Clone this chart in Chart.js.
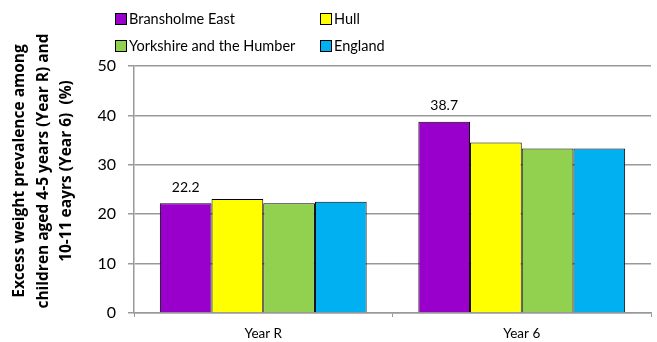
<!DOCTYPE html>
<html>
<head>
<meta charset="utf-8">
<script src="https://cdn.jsdelivr.net/npm/chart.js@4"></script>
<style>
  html, body { margin: 0; padding: 0; background: #fff; }
  #wrap { position: relative; width: 657px; height: 342px; }
  #legend { position: absolute; left: 115px; top: 8px; width: 540px; font-family: Lato, sans-serif; font-size: 14.5px; color: #000; }
  #legend .item { position: absolute; white-space: nowrap; line-height: 22px; }
  #legend .box { display: inline-block; width: 10px; height: 10px; border: 1px solid #000; margin-right: 2px; vertical-align: -1px; }
</style>
</head>
<body>
<div id="wrap">
  <canvas id="weightChart" width="657" height="342"></canvas>
  <div id="legend"></div>
</div>
<script>
// categories and series
var categories = ['Year R', 'Year 6'];
var seriesNames = ['Bransholme East', 'Hull', 'Yorkshire and the Humber', 'England'];
var bransholme = [22.2, 38.7];
var hull = [23.1, 34.5];
var yorkshire = [22.2, 33.3];
var england = [22.5, 33.3];
var seriesColors = ['#9900CC', '#FFFF00', '#92D050', '#00B0F0'];
var yTicks = [0, 10, 20, 30, 40, 50];
var yTitle = ['Excess weight prevalence among', 'children aged 4-5 years (Year R) and', '10-11 eayrs (Year 6)  (%)'];

var seriesValues = [bransholme, hull, yorkshire, england];

// legend in two columns
var legendPos = [[0, 0], [205, 0], [0, 27], [205, 27]];
$legend = document.getElementById('legend');
seriesNames.forEach(function(name, i) {
  var el = document.createElement('div');
  el.className = 'item';
  el.style.left = legendPos[i][0] + 'px';
  el.style.top = legendPos[i][1] + 'px';
  el.innerHTML = '<span class="box" style="background:' + seriesColors[i] + '"></span>' + name;
  $legend.appendChild(el);
});

// value labels above the first series only
var valueLabels = {
  id: 'valueLabels',
  afterDatasetsDraw: function(chart) {
    var ctx = chart.ctx;
    var meta = chart.getDatasetMeta(0);
    ctx.save();
    ctx.font = '14px Lato';
    ctx.fillStyle = '#000';
    ctx.textAlign = 'center';
    ctx.textBaseline = 'middle';
    meta.data.forEach(function(bar, i) {
      ctx.fillText(bransholme[i].toFixed(1), bar.x, bar.y - 16);
    });
    ctx.restore();
  }
};

// rotated three-line y axis title
var axisTitle = {
  id: 'axisTitle',
  afterDraw: function(chart) {
    var ctx = chart.ctx;
    ctx.save();
    ctx.translate(20, 171);
    ctx.rotate(-Math.PI / 2);
    ctx.font = 'bold 15.5px "Open Sans"';
    ctx.fillStyle = '#000';
    ctx.textAlign = 'center';
    ctx.textBaseline = 'middle';
    yTitle.forEach(function(line, i) {
      ctx.fillText(line, 0, i * 23.5);
    });
    ctx.restore();
  }
};

var datasets = seriesNames.map(function(name, i) {
  return {
    label: name,
    data: seriesValues[i],
    backgroundColor: seriesColors[i],
    borderColor: '#000',
    borderWidth: 1,
    categoryPercentage: 0.8,
    barPercentage: 1.0
  };
});

new Chart(document.getElementById('weightChart').getContext('2d'), {
  type: 'bar',
  data: { labels: categories, datasets: datasets },
  options: {
    responsive: false,
    animation: false,
    layout: { padding: { top: 66, right: 6, left: 0, bottom: 0 } },
    plugins: {
      legend: { display: false },
      tooltip: { enabled: false }
    },
    scales: {
      x: {
        grid: { offset: true, drawOnChartArea: false, color: '#999', tickLength: 4 },
        border: { color: '#999', width: 1.5 },
        ticks: { color: '#000', font: { family: 'Lato', size: 13.5 }, padding: 9 },
        afterFit: function(scale) { scale.height = 29; }
      },
      y: {
        min: 0,
        max: 50,
        afterBuildTicks: function(scale) {
          scale.ticks = yTicks.map(function(v) { return { value: v }; });
        },
        grid: { color: '#999', lineWidth: 1.5, tickLength: 6 },
        border: { color: '#999', width: 1.5 },
        ticks: { color: '#000', font: { family: 'Lato', size: 16 }, padding: 12 },
        afterFit: function(scale) { scale.width = 134; }
      }
    }
  },
  plugins: [valueLabels, axisTitle]
});
</script>
</body>
</html>
